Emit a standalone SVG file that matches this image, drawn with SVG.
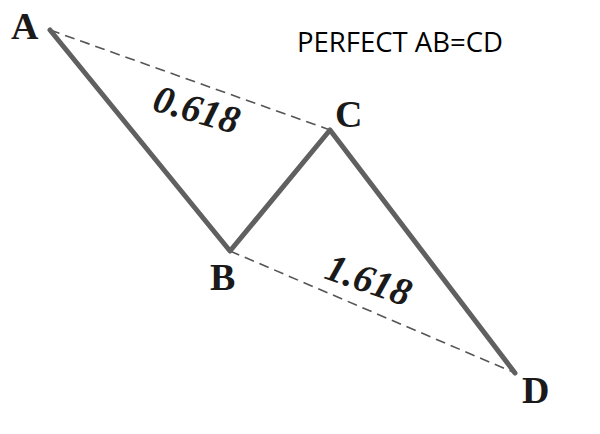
<svg xmlns="http://www.w3.org/2000/svg" width="600" height="434" viewBox="0 0 600 434">
<style>
.leg{stroke:#606060;stroke-width:5;fill:none;stroke-linecap:round;stroke-linejoin:round}
.dash{stroke:#555555;stroke-width:1.6;fill:none;stroke-dasharray:10 6}
.pt{font-family:"Liberation Serif","Times New Roman",serif;font-weight:bold;font-size:38px;fill:#1a1a1a}
.ratio{font-family:"Liberation Serif","Times New Roman",serif;font-weight:bold;font-style:italic;font-size:39px;fill:#1a1a1a}
.title{font-family:"Open Sans","Liberation Sans",sans-serif;font-size:27px;fill:#000}
</style>
<rect width="600" height="434" fill="#fff"/>
<g id="connectors">
<line class="dash" x1="50" y1="30" x2="330" y2="130"/>
<line class="dash" x1="230" y1="251" x2="515" y2="373"/>
<polyline class="leg" points="50,30 230,251 330,130 515,373"/>
</g>
<g id="node-A"><text class="pt" x="11" y="39">A</text></g>
<g id="node-B"><text class="pt" x="210" y="290">B</text></g>
<g id="node-C"><text class="pt" x="335" y="127">C</text></g>
<g id="node-D"><text class="pt" x="522" y="403">D</text></g>
<g id="label-0618"><text class="ratio" transform="translate(151,110) rotate(16)">0.618</text></g>
<g id="label-1618"><text class="ratio" transform="translate(323,278) rotate(19)">1.618</text></g>
<g id="title"><text class="title" x="297" y="52" textLength="206" lengthAdjust="spacingAndGlyphs">PERFECT AB=CD</text></g>
</svg>
